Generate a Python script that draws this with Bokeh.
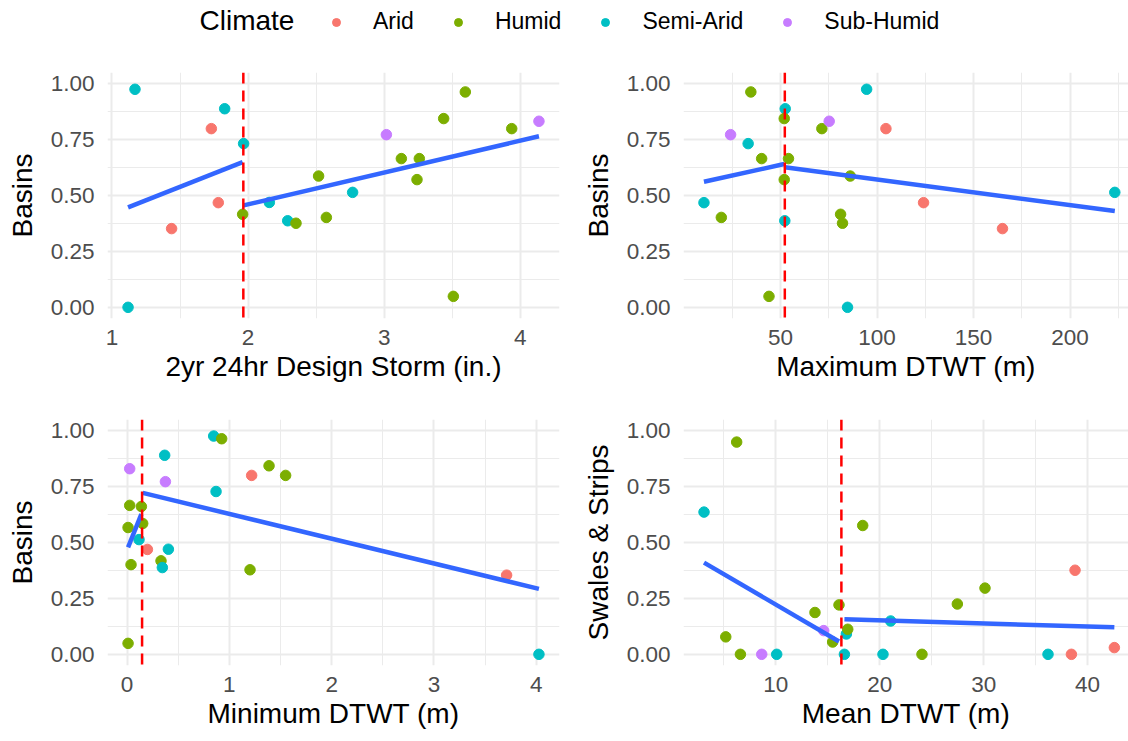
from bokeh.plotting import figure
from bokeh.models import (ColumnDataSource, FixedTicker, Span, Legend, LegendItem,
                          Label, Range1d, NumeralTickFormatter)
from bokeh.layouts import column, row
from bokeh.embed import file_html
from bokeh.resources import INLINE
import numpy as np

FONT = "Liberation Sans"
climates = ["Arid", "Humid", "Semi-Arid", "Sub-Humid"]
colors = ["#F8766D", "#7CAE00", "#00BFC4", "#C77CFF"]
cmap = dict(zip(climates, colors))
A, H, S, SH = climates

# Panel 1: 2yr 24hr design storm vs Basins
storm_in = [1.169, 1.828, 1.730, 1.967, 3.016, 3.126, 3.258, 3.437, 3.596, 3.937, 4.137, 2.518,
            3.241, 2.768, 2.156, 1.781, 1.960, 2.291, 2.352, 2.575, 1.438, 3.508, 1.118]
storm_basins = [0.975, 0.888, 0.799, 0.732, 0.772, 0.665, 0.665, 0.844, 0.963, 0.799, 0.832, 0.587,
                0.571, 0.514, 0.469, 0.468, 0.416, 0.387, 0.376, 0.402, 0.352, 0.049, 0.0]
storm_climate = [S, S, A, S, SH, H, H, H, H, H, SH, H, H, S, S, A, H, S, H, H, A, H, S]
storm_break = 1.965

# Panel 2: Maximum DTWT vs Basins
max_dtwt = [10.3, 19.3, 24.1, 33.2, 34.6, 40.2, 44.0, 52.4, 51.9, 54.1, 51.9, 52.2, 71.4, 75.2,
            86.1, 81.1, 82.1, 84.7, 94.6, 104.6, 124.1, 165.0, 223.2]
max_basins = [0.468, 0.402, 0.772, 0.732, 0.963, 0.665, 0.049, 0.888, 0.844, 0.665, 0.571, 0.387,
              0.799, 0.832, 0.587, 0.416, 0.376, 0.0, 0.975, 0.799, 0.468, 0.352, 0.514]
max_climate = [S, H, SH, S, H, H, H, S, H, H, H, S, H, SH, H, H, H, S, S, A, A, A, S]
max_break = 52.2

# Panel 3: Minimum DTWT vs Basins
min_dtwt = [0.847, 0.925, 0.368, 0.026, 0.375, 1.388, 1.218, 1.550, 0.870, 0.026, 0.140, 0.010,
            0.153, 0.117, 0.199, 0.404, 0.332, 0.345, 0.039, 1.202, 3.710, 0.010, 4.026]
min_basins = [0.976, 0.964, 0.890, 0.830, 0.772, 0.843, 0.800, 0.800, 0.728, 0.666, 0.661, 0.567,
              0.585, 0.513, 0.469, 0.470, 0.418, 0.388, 0.401, 0.378, 0.354, 0.049, 0.0]
min_climate = [S, H, S, SH, SH, H, A, H, S, H, H, H, H, S, A, S, H, S, H, H, A, H, S]
min_break = 0.147

# Panel 4: Mean DTWT vs Swales & Strips
mean_dtwt = [3.11, 6.25, 5.20, 6.61, 8.66, 10.10, 13.78, 14.62, 15.48, 16.09, 16.80, 16.93, 16.61,
             18.37, 21.06, 20.32, 24.07, 27.47, 30.13, 36.19, 38.44, 38.79, 42.57]
mean_swales = [0.636, 0.949, 0.078, 0.0, 0.0, 0.0, 0.187, 0.106, 0.055, 0.221, 0.091, 0.112, 0.0,
               0.576, 0.149, 0.0, 0.0, 0.225, 0.296, 0.0, 0.0, 0.376, 0.030]
mean_climate = [S, H, H, H, SH, S, H, SH, H, H, S, H, S, H, S, S, H, H, H, S, A, A, A]
mean_break = 16.32

y_ticks = [0, 0.25, 0.5, 0.75, 1.0]
y_minor = [0.125, 0.375, 0.625, 0.875]


def panel(x, y, clim, bp, xlabel, ylabel, xr, xticks, xminor, w, h, bl, br, bt, bb):
    p = figure(width=w, height=h, output_backend="svg", toolbar_location=None,
               x_range=Range1d(*xr), y_range=Range1d(-0.05, 1.05),
               min_border_left=bl, min_border_right=br, min_border_top=bt, min_border_bottom=bb)
    p.outline_line_color = None
    p.background_fill_color = "white"
    p.xaxis.ticker = FixedTicker(ticks=xticks, minor_ticks=xminor)
    p.yaxis.ticker = FixedTicker(ticks=y_ticks, minor_ticks=y_minor)
    p.yaxis.formatter = NumeralTickFormatter(format="0.00")
    for g in (p.xgrid, p.ygrid):
        g.grid_line_color = "#EBEBEB"
        g.grid_line_width = 2
        g.minor_grid_line_color = "#EBEBEB"
        g.minor_grid_line_width = 1
    for ax in (p.xaxis, p.yaxis):
        ax.axis_line_color = None
        ax.major_tick_line_color = None
        ax.minor_tick_line_color = None
        ax.major_tick_out = 0
        ax.major_tick_in = 0
        ax.minor_tick_out = 0
        ax.minor_tick_in = 0
        ax.major_label_text_font = FONT
        ax.major_label_text_font_size = "22.5px"
        ax.major_label_text_color = "#4D4D4D"
        ax.axis_label_text_font = FONT
        ax.axis_label_text_font_size = "28px"
        ax.axis_label_text_font_style = "normal"
        ax.axis_label_text_color = "black"
    p.xaxis.axis_label = xlabel
    p.yaxis.axis_label = ylabel
    p.xaxis.major_label_standoff = 11
    p.xaxis.axis_label_standoff = 3
    p.yaxis.major_label_standoff = 13
    p.yaxis.axis_label_standoff = 10

    src = ColumnDataSource(dict(x=x, y=y, c=[cmap[k] for k in clim]))
    p.scatter("x", "y", source=src, size=10.5, fill_color="c", line_color="c")

    xa = np.array(x)
    ya = np.array(y)
    left = xa < bp
    for m in (left, ~left):
        xs, ys = xa[m], ya[m]
        k, b = np.polyfit(xs, ys, 1)
        xx = np.array([xs.min(), xs.max()])
        p.line(xx, k * xx + b, line_color="#3366FF", line_width=4.5)

    p.add_layout(Span(location=bp, dimension="height", line_color="#FF0000",
                      line_dash="11 7", line_width=2.5))
    return p


p1 = panel(storm_in, storm_basins, storm_climate, storm_break, "2yr 24hr Design Storm (in.)", "Basins",
           (0.967, 4.288), [1, 2, 3, 4], [1.5, 2.5, 3.5], 579, 347, 107, 20, 22, 79)
p2 = panel(max_dtwt, max_basins, max_climate, max_break, "Maximum DTWT (m)", "Basins",
           (-0.3, 230.3), [50, 100, 150, 200], [25, 75, 125, 175, 225], 549, 347, 104, 0, 22, 79)
p3 = panel(min_dtwt, min_basins, min_climate, min_break, "Minimum DTWT (m)", "Basins",
           (-0.191, 4.227), [0, 1, 2, 3, 4], [0.5, 1.5, 2.5, 3.5], 579, 344, 107, 20, 22, 76)
p4 = panel(mean_dtwt, mean_swales, mean_climate, mean_break, "Mean DTWT (m)", "Swales & Strips",
           (1.137, 43.93), [10, 20, 30, 40], [5, 15, 25, 35], 549, 344, 104, 0, 22, 76)

lg = figure(width=1128, height=50, output_backend="svg", toolbar_location=None,
            x_range=Range1d(0, 1), y_range=Range1d(0, 1), min_border=0)
lg.axis.visible = False
lg.grid.visible = False
lg.outline_line_color = None
items = []
for c, col in zip(climates, colors):
    # legend proxy: a single NaN point (not drawn) so the legend glyph has a size
    r = lg.scatter(x=[np.nan], y=[np.nan], size=9, fill_color=col, line_color=col)
    items.append(LegendItem(label=c, renderers=[r]))
legend = Legend(items=items, orientation="horizontal", location=(326, 15),
                glyph_width=20, glyph_height=20, label_standoff=27, spacing=34,
                padding=0, margin=0, border_line_color=None, background_fill_alpha=0,
                label_text_font=FONT, label_text_font_size="23px", label_text_color="black")
lg.add_layout(legend)
lg.add_layout(Label(x=199, y=30, x_units="screen", y_units="screen", text="Climate",
                    text_font=FONT, text_font_size="28px", text_baseline="middle",
                    text_color="black"))

layout = column(lg, row(p1, p2), row(p3, p4))
open("out.html", "w").write(file_html(layout, INLINE))
